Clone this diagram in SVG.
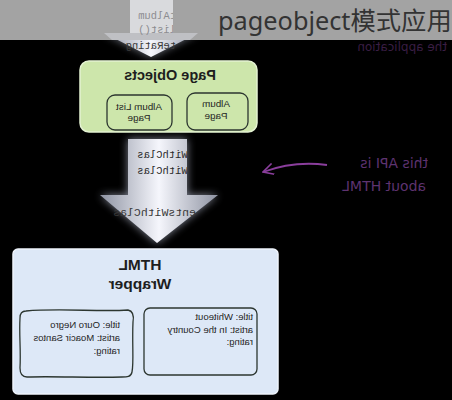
<svg xmlns="http://www.w3.org/2000/svg" width="452" height="400" viewBox="0 0 452 400">
<style>
.mir{font-family:"Liberation Sans",Arial,sans-serif;fill:#1e1e1e}
.mono{font-family:"Liberation Mono","DejaVu Sans Mono",monospace;font-size:10.5px;fill:#2a2a2a}
.hand{font-family:"DejaVu Sans","Noto Sans",sans-serif;fill:#6e3a80}
.inner{fill:none;stroke:#2c3630;stroke-width:1.3}
</style>
<defs>
<linearGradient id="ag" x1="0" y1="0" x2="1" y2="0">
<stop offset="0" stop-color="#8e93a2"/>
<stop offset="0.5" stop-color="#f5f6fc"/>
<stop offset="1" stop-color="#8e93a2"/>
</linearGradient>
<filter id="glow" x="-30%" y="-30%" width="160%" height="160%">
<feGaussianBlur stdDeviation="4"/>
</filter>
<clipPath id="shaft2"><rect x="128" y="139" width="59" height="56"/></clipPath>
<clipPath id="shaft1"><rect x="130" y="0" width="43" height="40"/></clipPath>
<marker id="pa" viewBox="0 0 12 12" refX="11" refY="6" markerWidth="12" markerHeight="12" orient="auto" markerUnits="userSpaceOnUse">
<path d="M1,0 L11,6 L0,11" fill="none" stroke="#8a3e9c" stroke-width="1.6"/>
</marker>
</defs>
<rect width="452" height="400" fill="#000"/>
<g id="connectors">
<g id="arrow-top">
<polygon points="130,0 173,0 173,33 198,33 151,57 104,33 130,33" fill="#9aa0b0" filter="url(#glow)" opacity="0.7"/>
<polygon points="130,0 173,0 173,33 198,33 151,57 104,33 130,33" fill="url(#ag)"/>
</g>
<g id="arrow-mid">
<polygon points="128,139 187,139 187,195 218,195 157,243 100,195 128,195" fill="#a0a6b8" filter="url(#glow)" opacity="0.8"/>
<polygon points="128,139 187,139 187,195 218,195 157,243 100,195 128,195" fill="url(#ag)"/>
<g clip-path="url(#shaft2)">
<g transform="matrix(-1 0 0 1 0 0)">
<text class="mono" x="-194" y="158">sWithClas</text>
<text class="mono" x="-194" y="174">sWithClas</text>
</g>
</g>
<g transform="matrix(-1 0 0 1 0 0)">
<text class="mono" x="-196" y="216" style="font-size:11.5px;fill:#3a3a3a">entsWithClas</text>
</g>
</g>
<path id="arrow-note" d="M327,165 C305,162 282,165 263,172" fill="none" stroke="#8a3e9c" stroke-width="1.8" marker-end="url(#pa)"/>
</g>
<g transform="matrix(-1 0 0 1 0 0)">
<g id="note-app">
<text class="hand" x="-447" y="51" style="font-size:12px;fill:#3a1e44">the application</text>
</g>
<g id="note-api">
<text class="hand" x="-428" y="168" style="font-size:14px;fill:#5e3370">this API is</text>
<text class="hand" x="-426" y="191" style="font-size:14px;fill:#5e3370">about HTML</text>
</g>
</g>
<g id="page-objects">
<rect x="80" y="61" width="177" height="71" rx="9" fill="#cde6ab" stroke="#e4f2d2" stroke-width="1.5"/>
<rect id="album-list-page" x="107" y="95" width="65" height="35" rx="8" class="inner"/>
<rect id="album-page" x="187" y="93" width="61" height="37" rx="8" class="inner"/>
<g transform="matrix(-1 0 0 1 0 0)">
<text class="mir" x="-170" y="80" text-anchor="middle" style="font-size:14.5px;font-weight:bold">Page Objects</text>
<text class="mir" x="-139" y="110" text-anchor="middle" style="font-size:9.8px">Album List</text>
<text class="mir" x="-139" y="121" text-anchor="middle" style="font-size:9.8px">Page</text>
<text class="mir" x="-216" y="107" text-anchor="middle" style="font-size:9.8px">Album</text>
<text class="mir" x="-216" y="119" text-anchor="middle" style="font-size:9.8px">Page</text>
</g>
</g>
<g id="html-wrapper">
<rect x="13" y="249" width="265" height="145" rx="5" fill="#dde8f7" stroke="#eef3fb" stroke-width="1.5"/>
<path id="album-ouro-negro" d="M26,311 C60,308 100,312 128,310 C133,311 134,316 133,322 C132,345 134,362 132,372 C131,377 127,377 122,377 C90,378 55,376 27,377 C22,377 20,373 20,368 C21,350 19,335 20,318 C20,313 22,311 26,311 Z" class="inner"/>
<rect id="album-whiteout" x="144" y="308" width="113" height="67" rx="6" class="inner"/>
<g transform="matrix(-1 0 0 1 0 0)">
<text class="mir" x="-140" y="270" text-anchor="middle" style="font-size:15.5px;font-weight:bold">HTML</text>
<text class="mir" x="-140" y="289" text-anchor="middle" style="font-size:15.5px;font-weight:bold">Wrapper</text>
<text class="mir" x="-120" y="328" style="font-size:9.5px">title: Ouro Negro</text>
<text class="mir" x="-120" y="341" style="font-size:9.5px">artist: Moacir Santos</text>
<text class="mir" x="-120" y="354" style="font-size:9.5px">rating:</text>
<text class="mir" x="-253" y="320" style="font-size:9.5px">title: Whiteout</text>
<text class="mir" x="-253" y="333" style="font-size:9.5px">artist: In the Country</text>
<text class="mir" x="-253" y="345" style="font-size:9.5px">rating:</text>
</g>
</g>
<g id="banner">
<rect x="0" y="0" width="452" height="40" fill="#a3a3a3"/>
<rect x="130" y="0" width="43" height="40" fill="#d9dadd"/>
<polygon points="104,33 198,33 190,40 112,40" fill="#bfc0c4"/>
<g clip-path="url(#shaft1)">
<g transform="matrix(-1 0 0 1 0 0)">
<text class="mono" x="-176" y="19" style="fill:#8c8c90">tAlbum</text>
<text class="mono" x="-176" y="33" style="fill:#8c8c90">list()</text>
</g>
</g>
<g transform="matrix(-1 0 0 1 0 0)">
<text class="mono" x="-176" y="49" style="fill:#3a3a3a">teRating</text>
</g>
<text x="218" y="30" style="font-family:'Noto Sans','Noto Sans CJK SC',sans-serif;font-size:25.3px;fill:#333">pageobject模式应用</text>
</g>
</svg>
